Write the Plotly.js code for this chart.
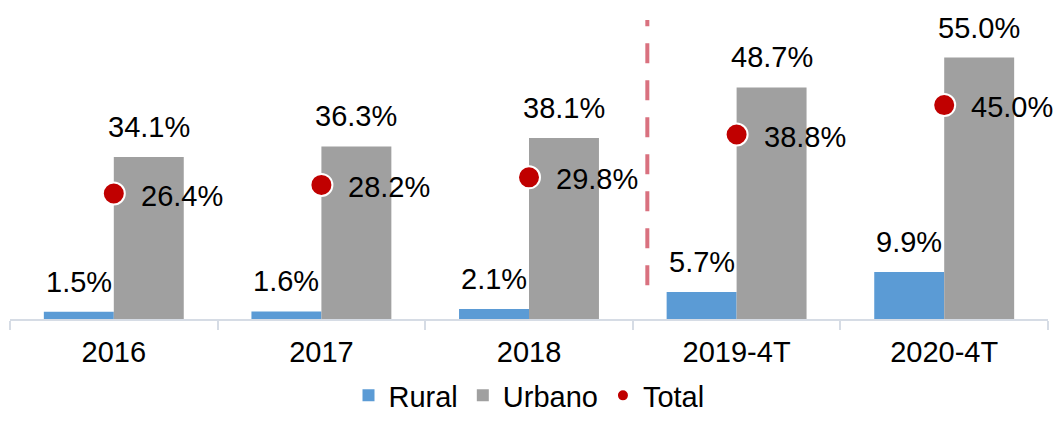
<!DOCTYPE html>
<html>
<head>
<meta charset="utf-8">
<script src="https://cdn.plot.ly/plotly-3.0.1.min.js"></script>
<style>html,body{margin:0;padding:0;background:#fff;}#chart{width:1058px;height:421px;}</style>
</head>
<body>
<div id="chart"></div>
<script>
const categories = ['2016', '2017', '2018', '2019-4T', '2020-4T'];
const rural = [1.5, 1.6, 2.1, 5.7, 9.9];
const urbano = [34.1, 36.3, 38.1, 48.7, 55.0];
const total = [26.4, 28.2, 29.8, 38.8, 45.0];
const seriesNames = ['Rural', 'Urbano', 'Total'];

const FONT = 'Liberation Sans, Arial, sans-serif';
const FS = 29;
const fmt = v => v.toFixed(1) + '%';

const traces = [
  {type: 'bar', name: seriesNames[0], x: categories, y: rural,
   marker: {color: '#5b9bd5'}, hoverinfo: 'skip'},
  {type: 'bar', name: seriesNames[1], x: categories, y: urbano,
   marker: {color: '#a0a0a0'}, hoverinfo: 'skip'},
  {type: 'scatter', mode: 'markers', name: seriesNames[2], x: categories, y: total,
   marker: {color: '#c00000', size: 22, line: {color: '#ffffff', width: 2}}, hoverinfo: 'skip'}
];

// annotation positions on a category axis use the category's serial number
const annotations = [];
categories.forEach((c, i) => {
  annotations.push({x: i, y: rural[i], xref: 'x', yref: 'y', text: fmt(rural[i]), showarrow: false,
    xanchor: 'center', yanchor: 'bottom', xshift: -35, yshift: 12, font: {family: FONT, size: FS, color: '#000'}});
  annotations.push({x: i, y: urbano[i], xref: 'x', yref: 'y', text: fmt(urbano[i]), showarrow: false,
    xanchor: 'center', yanchor: 'bottom', xshift: 35, yshift: 12, font: {family: FONT, size: FS, color: '#000'}});
  annotations.push({x: i, y: total[i], xref: 'x', yref: 'y', text: fmt(total[i]), showarrow: false,
    xanchor: 'left', yanchor: 'middle', xshift: 25, yshift: -2, font: {family: FONT, size: FS, color: '#000'}});
});

const layout = {
  width: 1058, height: 421,
  margin: {l: 10, r: 10, t: 10, b: 102},
  paper_bgcolor: '#fff', plot_bgcolor: '#fff',
  barmode: 'group', bargap: 0.326, bargroupgap: 0,
  font: {family: FONT, size: FS, color: '#000'},
  xaxis: {type: 'category', range: [-0.5, 4.5], autorange: false, showline: true, linecolor: '#d6dce5', linewidth: 2,
    ticks: 'outside', tickson: 'boundaries', ticklen: 9, tickcolor: '#d6dce5', tickwidth: 2,
    ticklabelstandoff: 6,
    tickfont: {family: FONT, size: FS, color: '#000'}, tickangle: 0, showgrid: false, zeroline: false},
  yaxis: {range: [0, 65], autorange: false, visible: false, showgrid: false, zeroline: false},
  showlegend: true,
  legend: {orientation: 'h', x: 0.5, xanchor: 'center', xref: 'container', y: 0, yanchor: 'bottom', yref: 'container',
    font: {family: FONT, size: FS, color: '#000'}, itemsizing: 'constant', traceorder: 'normal'},
  shapes: [{type: 'line', xref: 'x', yref: 'y', x0: 2.57, x1: 2.57, y0: 7.1, y1: 62.9,
    line: {color: '#d9717f', width: 4, dash: '20px,17px'}}],
  annotations: annotations
};

Plotly.newPlot('chart', traces, layout, {displayModeBar: false, staticPlot: true});
</script>
</body>
</html>
